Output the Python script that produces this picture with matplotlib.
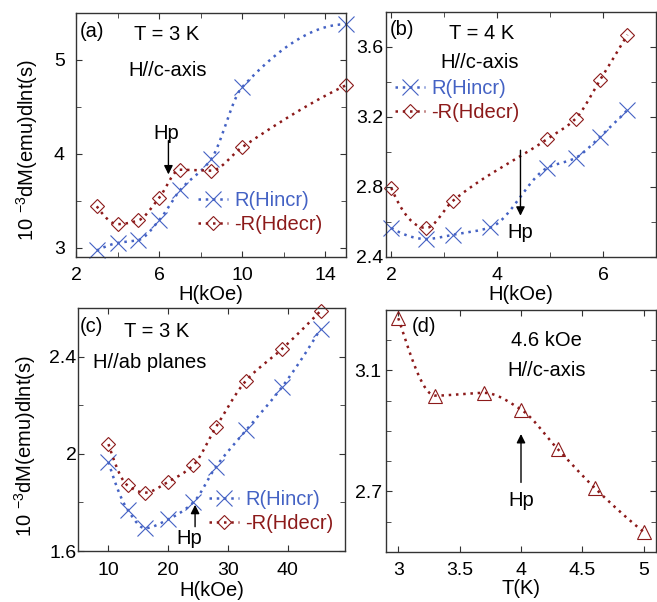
import matplotlib
matplotlib.use('Agg')
import matplotlib.pyplot as plt
import numpy as np
from matplotlib.ticker import MultipleLocator, FormatStrFormatter

plt.rcParams['font.family'] = ['Liberation Sans', 'DejaVu Sans']
plt.rcParams['mathtext.default'] = 'regular'

BLUE = '#4462c4'
RED = '#8c1a1a'

# (a) T = 3 K, H//c-axis
a_h = [3, 4, 5, 6, 7, 8.5, 10, 15]
a_incr = [2.97, 3.05, 3.08, 3.29, 3.61, 3.94, 4.71, 5.38]
a_decr = [3.44, 3.25, 3.29, 3.53, 3.83, 3.82, 4.07, 4.73]

# (b) T = 4 K, H//c-axis
b_h_incr = [2.0, 2.66, 3.16, 3.87, 4.95, 5.48, 5.94, 6.46]
b_incr = [2.566, 2.503, 2.527, 2.569, 2.91, 2.966, 3.086, 3.24]
b_h_decr = [2.0, 2.66, 3.16, 4.95, 5.48, 5.94, 6.46]
b_decr = [2.795, 2.566, 2.72, 3.075, 3.19, 3.41, 3.67]

# (c) T = 3 K, H//ab planes
c_h = [10, 13.2, 16.1, 20, 24.2, 28, 33, 39, 45.5]
c_incr = [1.966, 1.77, 1.694, 1.73, 1.80, 1.947, 2.096, 2.273, 2.514]
c_decr = [2.04, 1.87, 1.84, 1.885, 1.953, 2.11, 2.30, 2.43, 2.588]

# (d) 4.6 kOe, H//c-axis
d_t = [3.0, 3.3, 3.7, 4.0, 4.3, 4.6, 5.0]
d_r = [3.273, 3.017, 3.026, 2.971, 2.84, 2.712, 2.566]


# smooth guide-to-the-eye curve through the points (pchip)
def smooth(x, y, n=300):
    x = np.asarray(x, float)
    y = np.asarray(y, float)
    h = np.diff(x)
    delta = np.diff(y) / h
    d = np.zeros_like(y)
    for k in range(1, len(x) - 1):
        if delta[k - 1] * delta[k] > 0:
            w1 = 2 * h[k] + h[k - 1]
            w2 = h[k] + 2 * h[k - 1]
            d[k] = (w1 + w2) / (w1 / delta[k - 1] + w2 / delta[k])
    def end(h0, h1, d0, d1):
        s = ((2 * h0 + h1) * d0 - h0 * d1) / (h0 + h1)
        if np.sign(s) != np.sign(d0):
            return 0.0
        if np.sign(d0) != np.sign(d1) and abs(s) > 3 * abs(d0):
            return 3 * d0
        return s
    d[0] = end(h[0], h[1], delta[0], delta[1])
    d[-1] = end(h[-1], h[-2], delta[-1], delta[-2])
    xs = np.linspace(x[0], x[-1], n)
    idx = np.clip(np.searchsorted(x, xs) - 1, 0, len(x) - 2)
    t = (xs - x[idx]) / h[idx]
    h00 = 2 * t**3 - 3 * t**2 + 1
    h10 = t**3 - 2 * t**2 + t
    h01 = -2 * t**3 + 3 * t**2
    h11 = t**3 - t**2
    ys = h00 * y[idx] + h10 * h[idx] * d[idx] + h01 * y[idx + 1] + h11 * h[idx] * d[idx + 1]
    return xs, ys


def series(ax, x, y, color, marker, ms, label=None):
    xs, ys = smooth(x, y)
    ax.plot(xs, ys, color=color, lw=1.8, ls=(0, (1, 1.9)))
    ax.plot(x, y, ls='none', marker=marker, ms=ms, mfc='none', mec=color, mew=0.8,
            clip_on=False)
    # legend handle
    ax.plot([], [], color=color, lw=1.8, ls=(0, (1, 1.9)), marker=marker, ms=ms,
            mfc='none', mec=color, mew=0.8, label=label)


def hp_arrow(ax, x0, y0, x1, y1):
    ax.annotate('', xy=(x1, y1), xytext=(x0, y0),
                arrowprops=dict(arrowstyle='-|>', color='k', lw=1, mutation_scale=13,
                                shrinkA=0, shrinkB=0))


W, H = 657, 602
fig = plt.figure(figsize=(W / 100, H / 100), dpi=100)


def make_axes(l, r, t, b):
    ax = fig.add_axes([l / W, 1 - b / H, (r - l) / W, (b - t) / H])
    for s in ax.spines.values():
        s.set_color('#333333')
        s.set_linewidth(1.0)
    ax.tick_params(which='both', direction='in', top=True, right=True, labelsize=14,
                   color='#333333')
    ax.tick_params(which='major', length=4)
    ax.tick_params(which='minor', length=3.5)
    return ax


def legend(ax, x, y):
    ax.legend(loc='upper left', bbox_to_anchor=(x, y), frameon=False, fontsize=14.5,
              handlelength=1.5, handletextpad=0.3, labelspacing=0.25, borderpad=0,
              borderaxespad=0, numpoints=1, labelcolor='linecolor')


ylab = '10 $^{-3}$dM(emu)dlnt(s)'
fs = 14.5

# ---- (a)
ax = make_axes(76, 346, 13, 257)
series(ax, a_h, a_incr, BLUE, 'x', 11, 'R(Hincr)')
series(ax, a_h, a_decr, RED, 'D', 7.5, '-R(Hdecr)')
ax.set_xlim(2, 15)
ax.set_ylim(2.9, 5.5)
ax.set_xticks([2, 6, 10, 14])
ax.set_xticks([4, 8, 12], minor=True)
ax.yaxis.set_major_locator(MultipleLocator(1))
ax.yaxis.set_minor_locator(MultipleLocator(0.5))
ax.tick_params(axis='y', pad=8)
ax.tick_params(axis='x', pad=7)
ax.set_xlabel('H(kOe)', fontsize=fs, labelpad=1)
ax.set_ylabel(ylab, fontsize=fs)
ax.yaxis.set_label_coords(-0.135, 0.44)
ax.text(0.015, 0.923, '(a)', transform=ax.transAxes, fontsize=fs, ha='left', va='center')
ax.text(0.336, 0.91, 'T = 3 K', transform=ax.transAxes, fontsize=fs, ha='center', va='center')
ax.text(0.341, 0.766, 'H//c-axis', transform=ax.transAxes, fontsize=fs, ha='center', va='center')
ax.text(6.35, 4.22, 'Hp', fontsize=fs, ha='center', va='center')
hp_arrow(ax, 6.45, 4.14, 6.45, 3.78)
legend(ax, 0.452, 0.27)

# ---- (b)
ax = make_axes(386, 656, 12, 257)
series(ax, b_h_incr, b_incr, BLUE, 'x', 11, 'R(Hincr)')
series(ax, b_h_decr, b_decr, RED, 'D', 7.5, '-R(Hdecr)')
ax.set_xlim(1.9, 7.0)
ax.set_ylim(2.4, 3.8)
ax.xaxis.set_major_locator(MultipleLocator(2))
ax.xaxis.set_minor_locator(MultipleLocator(1))
ax.yaxis.set_major_locator(MultipleLocator(0.4))
ax.yaxis.set_minor_locator(MultipleLocator(0.2))
ax.yaxis.set_major_formatter(FormatStrFormatter('%.1f'))
ax.tick_params(axis='y', pad=2)
ax.tick_params(axis='x', pad=7)
ax.set_xlabel('H(kOe)', fontsize=fs, labelpad=1)
ax.text(0.015, 0.927, '(b)', transform=ax.transAxes, fontsize=fs, ha='left', va='center')
ax.text(0.354, 0.914, 'T = 4 K', transform=ax.transAxes, fontsize=fs, ha='center', va='center')
ax.text(0.348, 0.792, 'H//c-axis', transform=ax.transAxes, fontsize=fs, ha='center', va='center')
ax.text(4.43, 2.54, 'Hp', fontsize=fs, ha='center', va='center')
hp_arrow(ax, 4.44, 3.01, 4.44, 2.636)
legend(ax, 0.033, 0.725)

# ---- (c)
ax = make_axes(78, 345, 308, 551)
series(ax, c_h, c_incr, BLUE, 'x', 11, 'R(Hincr)')
series(ax, c_h, c_decr, RED, 'D', 7.5, '-R(Hdecr)')
ax.set_xlim(4.9, 49.6)
ax.set_ylim(1.6, 2.6)
ax.xaxis.set_major_locator(MultipleLocator(10))
ax.yaxis.set_major_locator(MultipleLocator(0.4))
ax.yaxis.set_minor_locator(MultipleLocator(0.2))
ax.yaxis.set_major_formatter(FormatStrFormatter('%g'))
ax.tick_params(axis='y', pad=1)
ax.tick_params(axis='x', pad=8)
ax.set_xlabel('H(kOe)', fontsize=fs, labelpad=1)
ax.set_ylabel(ylab, fontsize=fs)
ax.yaxis.set_label_coords(-0.15, 0.43)
ax.text(0.007, 0.923, '(c)', transform=ax.transAxes, fontsize=fs, ha='left', va='center')
ax.text(0.293, 0.903, 'T = 3 K', transform=ax.transAxes, fontsize=fs, ha='center', va='center')
ax.text(0.055, 0.775, 'H//ab planes', transform=ax.transAxes, fontsize=fs, ha='left', va='center')
ax.text(23.5, 1.653, 'Hp', fontsize=fs, ha='center', va='center')
hp_arrow(ax, 24.5, 1.70, 24.5, 1.79)
legend(ax, 0.491, 0.25)

# ---- (d)
ax = make_axes(386, 656, 310, 552)
xs, ys = smooth(d_t, d_r)
ax.plot(xs, ys, color=RED, lw=1.8, ls=(0, (1, 1.9)))
ax.plot(d_t, d_r, ls='none', marker='^', ms=9.5, mfc='none', mec=RED, mew=0.8,
        clip_on=False)
ax.set_xlim(2.9, 5.1)
ax.set_ylim(2.5, 3.3)
ax.xaxis.set_major_locator(MultipleLocator(0.5))
ax.xaxis.set_major_formatter(FormatStrFormatter('%g'))
ax.set_yticks([2.7, 3.1])
ax.yaxis.set_minor_locator(MultipleLocator(0.1))
ax.tick_params(axis='y', pad=3)
ax.tick_params(axis='x', pad=7)
ax.set_xlabel('T(K)', fontsize=fs, labelpad=0)
ax.text(0.095, 0.931, '(d)', transform=ax.transAxes, fontsize=fs, ha='left', va='center')
ax.text(0.595, 0.876, '4.6 kOe', transform=ax.transAxes, fontsize=fs, ha='center', va='center')
ax.text(0.595, 0.752, 'H//c-axis', transform=ax.transAxes, fontsize=fs, ha='center', va='center')
ax.text(4.0, 2.67, 'Hp', fontsize=fs, ha='center', va='center')
hp_arrow(ax, 4.0, 2.73, 4.0, 2.89)

fig.savefig('out.png', dpi=100)
